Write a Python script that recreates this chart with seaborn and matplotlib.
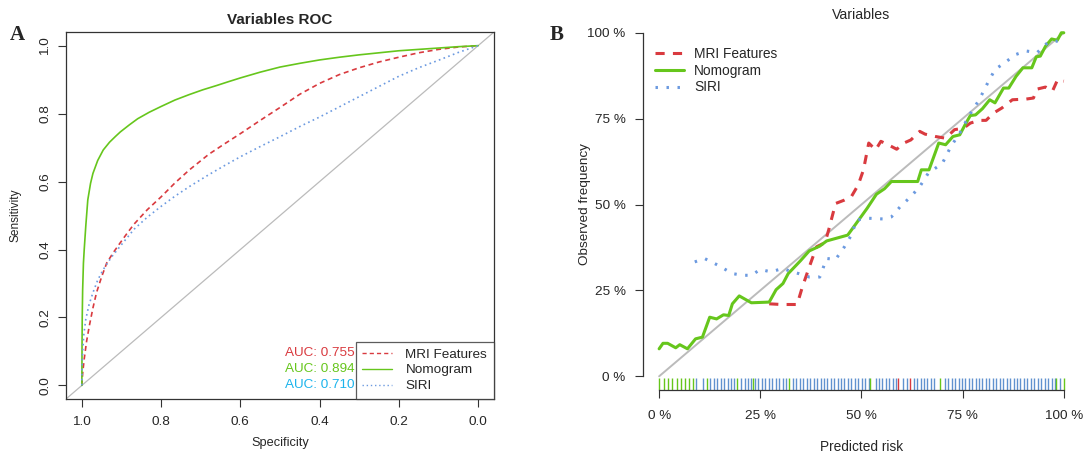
import numpy as np
import pandas as pd
import matplotlib
matplotlib.use("Agg")
import matplotlib.pyplot as plt
from matplotlib.lines import Line2D
import seaborn as sns

# ---- Panel A: ROC curves (specificity, sensitivity) ----
nomo_spec = [1.0, 0.9995, 0.999, 0.998, 0.996, 0.994, 0.99, 0.985, 0.978, 0.972, 0.96,
             0.946, 0.93, 0.915, 0.903, 0.88, 0.859, 0.83, 0.80, 0.765, 0.729, 0.695,
             0.659, 0.63, 0.60, 0.55, 0.50, 0.45, 0.40, 0.35, 0.30, 0.25, 0.20, 0.15,
             0.10, 0.05, 0.0]
nomo_sens = [0.0, 0.12, 0.20, 0.28, 0.36, 0.40, 0.47, 0.546, 0.595, 0.624, 0.662,
             0.693, 0.716, 0.733, 0.746, 0.767, 0.785, 0.804, 0.821, 0.84, 0.856, 0.87,
             0.883, 0.894, 0.905, 0.922, 0.937, 0.948, 0.958, 0.966, 0.973, 0.979, 0.985,
             0.989, 0.993, 0.997, 1.0]
mri_spec = [1.0, 0.998, 0.994, 0.988, 0.981, 0.972, 0.963, 0.95, 0.937, 0.92, 0.903,
            0.885, 0.868, 0.835, 0.80, 0.765, 0.729, 0.68, 0.64, 0.60, 0.55, 0.50, 0.45,
            0.40, 0.35, 0.30, 0.25, 0.20, 0.15, 0.10, 0.05, 0.0]
mri_sens = [0.0, 0.035, 0.078, 0.13, 0.176, 0.228, 0.273, 0.32, 0.361, 0.392, 0.42,
            0.449, 0.475, 0.517, 0.555, 0.596, 0.634, 0.68, 0.711, 0.741, 0.78, 0.818,
            0.857, 0.889, 0.915, 0.935, 0.952, 0.966, 0.979, 0.989, 0.996, 1.0]
siri_spec = [1.0, 0.9995, 0.998, 0.995, 0.99, 0.982, 0.972, 0.96, 0.946, 0.925, 0.903,
             0.868, 0.835, 0.80, 0.765, 0.729, 0.68, 0.64, 0.60, 0.55, 0.50, 0.45, 0.40,
             0.35, 0.30, 0.25, 0.20, 0.15, 0.10, 0.05, 0.0]
siri_sens = [0.0, 0.05, 0.098, 0.15, 0.195, 0.237, 0.273, 0.31, 0.341, 0.378, 0.41,
             0.46, 0.495, 0.527, 0.557, 0.585, 0.62, 0.647, 0.673, 0.703, 0.732, 0.762,
             0.79, 0.82, 0.85, 0.88, 0.91, 0.935, 0.957, 0.98, 1.0]
auc_labels = ["AUC: 0.755", "AUC: 0.894", "AUC: 0.710"]
model_names = ["MRI Features", "Nomogram", "SIRI"]

# ---- Panel B: calibration curves (predicted %, observed %) ----
nomo_pred = [0, 0.95, 2.1, 4.1, 5.1, 7.0, 9.0, 10.7, 12.5, 14.2, 15.9, 17.2, 18.1, 19.8,
             22.8, 27.2, 28.9, 30.6, 31.9, 34.9, 37.1, 39.7, 41.4, 46.6, 48.4, 51.4, 53.7,
             55.7, 57.4, 63.9, 64.8, 66.7, 69.1, 70.8, 72.6, 74.3, 75.6, 76.9, 78.2, 79.9,
             81.7, 83.0, 85.1, 86.4, 88.2, 89.9, 92.1, 93.2, 94.2, 95.5, 97.0, 98.4, 99.4, 100]
nomo_obs = [8.0, 9.6, 9.6, 8.3, 9.2, 8.0, 10.9, 11.4, 17.2, 16.7, 17.9, 17.7, 21.1, 23.4,
            21.4, 21.6, 25.2, 27.0, 29.9, 33.6, 36.5, 37.9, 39.4, 41.1, 44.0, 48.9, 53.0,
            54.6, 56.7, 56.7, 60.1, 60.1, 67.9, 67.4, 69.8, 70.3, 73.2, 75.9, 76.1, 77.9,
            80.5, 79.6, 83.9, 83.9, 87.3, 89.8, 89.8, 93.0, 93.2, 96.1, 98.2, 97.8, 100, 100]
mri_pred = [27.2, 30.2, 34.1, 35.4, 37.1, 38.9, 41.0, 41.9, 43.6, 45.8, 47.5, 49.2, 50.5,
            51.8, 53.5, 54.8, 56.6, 58.7, 60.5, 62.2, 64.4, 65.7, 68.3, 70.8, 73.0, 75.2,
            76.9, 79.1, 80.8, 82.6, 84.7, 87.3, 90.7, 92.5, 93.4, 95.5, 97.2, 98.5, 100]
mri_obs = [21.1, 20.9, 20.9, 26.0, 31.8, 37.7, 38.9, 42.6, 50.3, 51.3, 52.3, 55.7, 60.1,
           67.9, 65.9, 68.4, 67.4, 66.1, 67.9, 68.8, 71.3, 70.5, 69.8, 69.3, 71.8, 72.2,
           73.7, 74.5, 74.5, 76.6, 78.1, 80.5, 80.7, 81.0, 83.6, 84.2, 83.0, 86.4, 85.9]
siri_pred = [8.8, 11.2, 14.6, 18.1, 20.7, 22.8, 25.0, 27.6, 30.6, 32.8, 34.5, 37.1, 39.7,
             41.4, 43.6, 45.8, 47.5, 48.8, 51.8, 55.3, 57.4, 59.6, 62.2, 64.4, 66.5, 68.3,
             70.0, 72.1, 74.3, 76.5, 79.1, 81.2, 83.0, 84.7, 88.2, 90.7, 93.4, 96.0, 98.5]
siri_obs = [33.3, 34.3, 32.3, 29.9, 29.4, 29.4, 31.1, 30.4, 31.4, 30.4, 29.9, 28.9, 28.9,
            34.3, 34.0, 37.7, 41.1, 45.5, 46.0, 45.8, 46.4, 49.4, 52.3, 55.2, 59.1, 60.6,
            62.0, 66.9, 70.8, 75.7, 80.5, 85.4, 89.3, 90.7, 93.7, 94.7, 94.2, 97.1, 97.6]

# rug of predicted risks (%)
green_rug = [0.0, 1.1, 2.1, 3.2, 4.3, 5.3, 6.4, 7.5, 8.3, 11.8, 19.2, 23.2, 32.1, 52.2,
             69.3, 98.1, 100.0]
red_rug = [59.1, 62.0]
blue_rug = [9.0, 10.9, 12.6, 13.5, 14.3, 15.2, 16.0, 16.9, 17.7, 18.5, 20.3, 21.1, 22.0,
            22.8, 23.7, 24.5, 25.4, 26.2, 27.1, 27.9, 28.8, 29.6, 30.5, 31.3, 33.1, 33.9,
            34.8, 35.6, 36.5, 37.3, 38.2, 39.0, 39.9, 40.7, 41.6, 42.4, 43.3, 44.1, 45.0,
            45.8, 46.7, 47.5, 48.4, 49.2, 50.1, 50.9, 51.8, 53.5, 54.4, 55.2, 56.1, 56.9,
            57.8, 58.6, 60.3, 61.2, 62.9, 63.7, 64.6, 65.4, 66.3, 67.1, 68.0, 70.6, 71.4,
            72.3, 73.1, 74.0, 74.8, 75.7, 76.5, 77.4, 78.2, 79.1, 79.9, 80.8, 81.6, 82.5,
            83.3, 84.2, 85.0, 85.9, 86.7, 87.6, 88.4, 89.3, 90.2, 91.0, 91.9, 92.7, 93.6,
            94.4, 95.3, 96.1, 97.0, 97.8, 99.0]
pct_ticks = [0, 25, 50, 75, 100]

RED = "#D93A3F"
GREEN = "#66C61C"
BLUE = "#6C9AE0"
RUG_BLUE = "#6192CF"
CYAN = "#1CB4EC"

sns.set_theme(style="white")
plt.rcParams["font.family"] = ["Liberation Sans", "DejaVu Sans"]

fig = plt.figure(figsize=(10.89, 4.53), dpi=100)
ax1 = fig.add_axes([0.0606, 0.1192, 0.393, 0.810])
ax2 = fig.add_axes([0.5904, 0.139, 0.4013, 0.819])

# ---------------- Panel A ----------------
ax1.plot([1.04, -0.04], [-0.04, 1.04], color="#BBBBBB", lw=0.9)
roc = [(mri_spec, mri_sens, RED, (0, (3, 2.2))),
       (nomo_spec, nomo_sens, GREEN, "-"),
       (siri_spec, siri_sens, BLUE, (0, (1, 2)))]
for spec, sens, col, ls in roc:
    sns.lineplot(x=spec, y=sens, ax=ax1, color=col, lw=1.2, linestyle=ls,
                 sort=False, estimator=None)
ax1.set_xlim(1.04, -0.04)
ax1.set_ylim(-0.04, 1.04)
ax1.set_xticks([1.0, 0.8, 0.6, 0.4, 0.2, 0.0])
ax1.set_yticks([0.0, 0.2, 0.4, 0.6, 0.8, 1.0])
ax1.set_xticklabels(["1.0", "0.8", "0.6", "0.4", "0.2", "0.0"], fontsize=9.7)
ax1.set_yticklabels(["0.0", "0.2", "0.4", "0.6", "0.8", "1.0"], fontsize=9.7,
                    rotation=90, va="center")
ax1.tick_params(axis="both", direction="out", length=5.5, width=0.8, color="#333333",
                bottom=True, left=True, pad=5)
ax1.tick_params(axis="x", pad=7)
for sp in ax1.spines.values():
    sp.set_color("#333333")
    sp.set_linewidth(0.9)
ax1.set_xlabel("Specificity", fontsize=9.2, labelpad=6)
ax1.set_ylabel("Sensitivity", fontsize=8.6)
ax1.yaxis.set_label_coords(-0.103, 0.5)
ax1.set_title("Variables ROC", fontsize=11, fontweight="bold", pad=6)

handles1 = [Line2D([], [], color=RED, lw=1.0, linestyle=(0, (3, 2.2))),
            Line2D([], [], color=GREEN, lw=1.0),
            Line2D([], [], color=BLUE, lw=1.0, linestyle=(0, (1, 2)))]
leg1 = ax1.legend(handles1, model_names, loc="lower right", bbox_to_anchor=(1, 0),
                  borderaxespad=0, fontsize=9.7, frameon=True, fancybox=False,
                  handlelength=2.2, labelspacing=0.25, borderpad=0.5, handletextpad=1.0)
leg1.get_frame().set_edgecolor("#333333")
leg1.get_frame().set_linewidth(0.9)
for txt, col, yf in zip(auc_labels, [RED, GREEN, CYAN], [0.125, 0.082, 0.038]):
    ax1.text(0.675, yf, txt, transform=ax1.transAxes, ha="right", va="center",
             color=col, fontsize=9.7)

# ---------------- Panel B ----------------
ax2.plot([0, 100], [0, 100], color="#BBBBBB", lw=1.4)
cal = [(mri_pred, mri_obs, RED, (0, (3, 2.7))),
       (nomo_pred, nomo_obs, GREEN, "-"),
       (siri_pred, siri_obs, BLUE, (0, (0.8, 2.8)))]
for xs, ys, col, ls in cal:
    sns.lineplot(x=xs, y=ys, ax=ax2, color=col, lw=2.2, linestyle=ls,
                 sort=False, estimator=None)
sns.rugplot(x=blue_rug, ax=ax2, height=0.032, color=RUG_BLUE, lw=1.35)
sns.rugplot(x=green_rug, ax=ax2, height=0.032, color=GREEN, lw=1.35)
sns.rugplot(x=red_rug, ax=ax2, height=0.032, color=RED, lw=1.35)
ax2.set_xlim(-4, 104)
ax2.set_ylim(-4, 104)
ax2.set_xticks(pct_ticks)
ax2.set_yticks(pct_ticks)
ax2.set_xticklabels([f"{t} %" for t in pct_ticks], fontsize=9.7)
ax2.set_yticklabels([f"{t} %" for t in pct_ticks], fontsize=9.7)
ax2.tick_params(axis="both", direction="out", length=5.5, width=0.8, color="#333333",
                bottom=True, left=True)
ax2.tick_params(axis="x", pad=9)
ax2.tick_params(axis="y", pad=7)
for side in ["top", "right"]:
    ax2.spines[side].set_visible(False)
for side in ["left", "bottom"]:
    ax2.spines[side].set_color("#333333")
    ax2.spines[side].set_linewidth(0.9)
    ax2.spines[side].set_bounds(0, 100)
ax2.set_xlabel("Predicted risk", fontsize=9.9, labelpad=13)
ax2.set_ylabel("Observed frequency", fontsize=9.7)
ax2.yaxis.set_label_coords(-0.119, 0.5)
ax2.set_title("Variables", fontsize=10.2, pad=0)

handles2 = [Line2D([], [], color=RED, lw=2.2, linestyle=(0, (3, 2.7))),
            Line2D([], [], color=GREEN, lw=2.2),
            Line2D([], [], color=BLUE, lw=2.2, linestyle=(0, (0.8, 2.8)))]
ax2.legend(handles2, model_names, loc="upper left", bbox_to_anchor=(0.0, 0.958),
           frameon=False, fontsize=9.9, handlelength=2.1, labelspacing=0.2,
           handletextpad=0.7)

# panel letters
fig.text(17 / 1089, 1 - 35 / 453, "A", family="Liberation Serif", fontweight="bold",
         fontsize=15, ha="center", va="center")
fig.text(557 / 1089, 1 - 35 / 453, "B", family="Liberation Serif", fontweight="bold",
         fontsize=15, ha="center", va="center")

fig.savefig("out.png", dpi=100)
